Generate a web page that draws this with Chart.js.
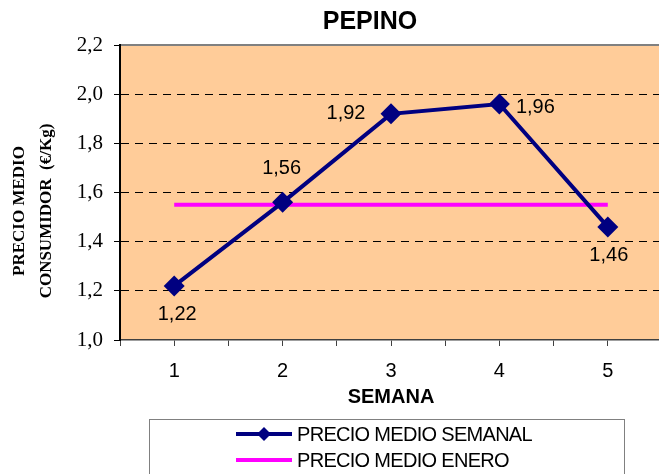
<!DOCTYPE html>
<html lang="es">
<head>
<meta charset="UTF-8">
<meta name="viewport" content="width=device-width, initial-scale=1.0">
<title>Pepino</title>
<style>
    body { margin: 0; background-color: #fff; overflow: hidden; }
    #wrap { width: 659px; height: 474px; overflow: hidden; }
    canvas { display: block; }
</style>
<script src="https://cdn.jsdelivr.net/npm/chart.js"></script>
</head>
<body>

<div id="wrap"><canvas id="pepinoChart" width="675" height="474"></canvas></div>

<script>
// datos
const semanas = [1, 2, 3, 4, 5];
const precioSemanal = [1.22, 1.56, 1.92, 1.96, 1.46];
const precioEnero = 1.55;
const yTicks = [1.0, 1.2, 1.4, 1.6, 1.8, 2.0, 2.2];

const titulo = "PEPINO";
const tituloY = ["PRECIO MEDIO", "CONSUMIDOR  (\u20AC/Kg)"];
const tituloX = "SEMANA";

// desplazamiento de cada etiqueta de valor respecto a su punto
const labelOffsets = [[3, 29], [-1, -34], [-45, 0], [36, 3], [1, 29]];

const coma = (v, d) => v.toFixed(d).replace(".", ",");

const decoracion = {
    id: "decoracion",
    beforeDraw(chart) {
        const { ctx, chartArea: a } = chart;
        ctx.save();
        ctx.fillStyle = "#FFCC99";
        ctx.fillRect(a.left, a.top, a.right - a.left, a.bottom - a.top);
        ctx.strokeStyle = "#808080";
        ctx.lineWidth = 2;
        ctx.beginPath();
        ctx.moveTo(a.left, a.top);
        ctx.lineTo(a.right, a.top);
        ctx.stroke();
        ctx.restore();
    },
    afterDatasetsDraw(chart) {
        const ctx = chart.ctx;
        const meta = chart.getDatasetMeta(0);
        ctx.save();
        ctx.font = "20px Arial, 'Liberation Sans'";
        ctx.fillStyle = "#000";
        ctx.textAlign = "center";
        ctx.textBaseline = "middle";
        meta.data.forEach((pt, i) => {
            const [dx, dy] = labelOffsets[i];
            ctx.fillText(coma(precioSemanal[i], 2), pt.x + dx, pt.y + dy);
        });
        ctx.restore();
    },
    afterDraw(chart) {
        const ctx = chart.ctx;
        ctx.save();
        ctx.fillStyle = "#000";
        ctx.textAlign = "center";
        ctx.textBaseline = "middle";

        // titulo
        ctx.font = "bold 25px Arial, 'Liberation Sans'";
        ctx.fillText(titulo, 370, 22);

        // titulo del eje y, girado
        ctx.font = "bold 17px 'Times New Roman', 'Liberation Serif'";
        [20, 47].forEach((x, i) => {
            ctx.save();
            ctx.translate(x, 211);
            ctx.rotate(-Math.PI / 2);
            ctx.fillText(tituloY[i], 0, 0);
            ctx.restore();
        });

        // leyenda
        ctx.strokeStyle = "#808080";
        ctx.lineWidth = 1;
        ctx.strokeRect(149.5, 419.5, 475, 80);
        ctx.font = "20px Arial, 'Liberation Sans'";
        ctx.textAlign = "left";
        ctx.letterSpacing = "-0.7px";
        chart.data.datasets.forEach((ds, i) => {
            const y = 434 + i * 26;
            ctx.strokeStyle = ds.borderColor;
            ctx.lineWidth = ds.borderWidth;
            ctx.beginPath();
            ctx.moveTo(236, y);
            ctx.lineTo(292, y);
            ctx.stroke();
            if (ds.pointRadius > 0) {
                ctx.fillStyle = ds.borderColor;
                ctx.beginPath();
                ctx.moveTo(264, y - 7);
                ctx.lineTo(271, y);
                ctx.lineTo(264, y + 7);
                ctx.lineTo(257, y);
                ctx.closePath();
                ctx.fill();
            }
            ctx.fillStyle = "#000";
            ctx.fillText(ds.label, 297, y + 1);
        });
        ctx.restore();
    }
};

new Chart(document.getElementById("pepinoChart").getContext("2d"), {
    type: "line",
    data: {
        datasets: [{
            label: "PRECIO MEDIO SEMANAL",
            data: semanas.map((s, i) => ({ x: s, y: precioSemanal[i] })),
            borderColor: "#000080",
            backgroundColor: "#000080",
            borderWidth: 4,
            pointStyle: "rectRot",
            pointRadius: 10.5,
            pointBorderWidth: 0,
            pointBackgroundColor: "#000080"
        }, {
            label: "PRECIO MEDIO ENERO",
            data: semanas.map(s => ({ x: s, y: precioEnero })),
            borderColor: "#FF00FF",
            backgroundColor: "#FF00FF",
            borderWidth: 4,
            pointRadius: 0
        }]
    },
    options: {
        responsive: false,
        animation: false,
        layout: { padding: { top: 45, right: 0, bottom: 64, left: 0 } },
        plugins: {
            legend: { display: false },
            tooltip: { enabled: false }
        },
        scales: {
            x: {
                type: "linear",
                min: semanas[0] - 0.5,
                max: semanas[semanas.length - 1] + 0.5,
                afterBuildTicks: s => {
                    const v = semanas.flatMap(w => [w - 0.5, w]);
                    v.push(semanas[semanas.length - 1] + 0.5);
                    s.ticks = v.map(value => ({ value }));
                },
                afterFit: s => { s.height = 70; },
                ticks: {
                    autoSkip: false,
                    maxRotation: 0,
                    padding: 13,
                    color: "#000",
                    font: { family: "Arial, 'Liberation Sans'", size: 20 },
                    callback: v => semanas.includes(v) ? String(v) : ""
                },
                grid: {
                    drawOnChartArea: false,
                    tickLength: 6,
                    tickColor: "#404040",
                    tickWidth: 1
                },
                border: { color: "#404040", width: 1.5 },
                title: {
                    display: true,
                    text: tituloX,
                    color: "#000",
                    font: { family: "Arial, 'Liberation Sans'", size: 20, weight: "bold" },
                    padding: { top: 0, bottom: 1 }
                }
            },
            y: {
                min: yTicks[0],
                max: yTicks[yTicks.length - 1],
                afterBuildTicks: s => { s.ticks = yTicks.map(value => ({ value })); },
                afterFit: s => { s.width = 120; },
                ticks: {
                    padding: 11,
                    color: "#000",
                    font: { family: "'Times New Roman', 'Liberation Serif'", size: 21 },
                    callback: v => coma(v, 1)
                },
                grid: {
                    color: c => (c.tick && (c.tick.value <= yTicks[0] || c.tick.value >= yTicks[yTicks.length - 1])) ? "rgba(0,0,0,0)" : "#000",
                    lineWidth: 1,
                    tickLength: 6,
                    tickColor: "#000",
                    tickWidth: 1,
                    tickBorderDash: []
                },
                border: { color: "#000", width: 2, dash: [8, 6] }
            }
        }
    },
    plugins: [decoracion]
});
</script>

</body>
</html>
